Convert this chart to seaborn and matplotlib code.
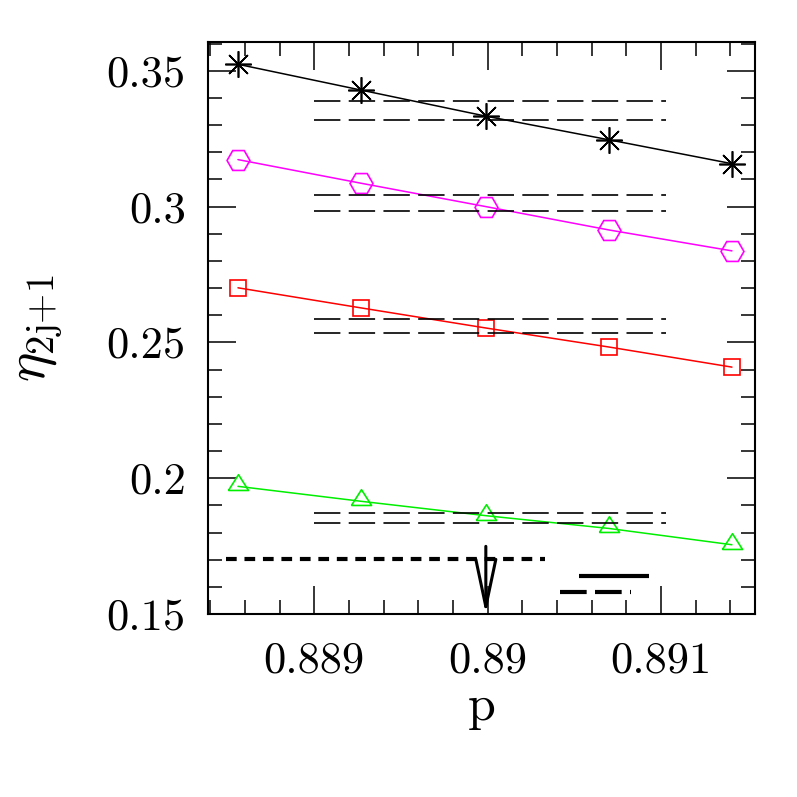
import numpy as np
import pandas as pd
import matplotlib
matplotlib.use('Agg')
import matplotlib.pyplot as plt
from matplotlib.ticker import MultipleLocator, FixedLocator, FixedFormatter
import seaborn as sns

# values
p_values = [0.88856, 0.88927, 0.88999, 0.89070, 0.89141]
eta_star = [0.3524, 0.3429, 0.3333, 0.3246, 0.3158]
eta_hex = [0.3173, 0.3086, 0.3000, 0.2914, 0.2837]
eta_square = [0.2701, 0.2627, 0.2553, 0.2483, 0.2409]
eta_triangle = [0.1970, 0.1915, 0.1862, 0.1815, 0.1755]

# pairs of horizontal dashed reference levels
band_x = [0.889, 0.89103]
band_levels = [(0.3389, 0.3320), (0.3044, 0.2983), (0.2586, 0.2534), (0.1873, 0.1835)]

# thick legend-like segments near the bottom
thick_dash_x = [0.88849, 0.89033]
thick_dash_y = 0.1701
thick_solid_x = [0.89053, 0.89093]
thick_solid_y = 0.1639
thick_dashdot_x = [0.89042, 0.89083]
thick_dashdot_y = 0.1580

# arrow marking p_c
arrow_x = 0.88999
arrow_top = 0.1749
arrow_tip = 0.15

x_ticks = [0.889, 0.89, 0.891]
x_tick_labels = ['0.889', '0.89', '0.891']
y_ticks = [0.15, 0.2, 0.25, 0.3, 0.35]
y_tick_labels = ['0.15', '0.2', '0.25', '0.3', '0.35']

sns.set_style('ticks')
plt.rcParams['font.family'] = ['cmr10', 'DejaVu Serif']
plt.rcParams['mathtext.fontset'] = 'cm'
plt.rcParams['axes.unicode_minus'] = False
plt.rcParams['axes.formatter.use_mathtext'] = True
plt.rcParams['lines.scale_dashes'] = False
plt.rcParams['text.color'] = 'black'
plt.rcParams['axes.labelcolor'] = 'black'
plt.rcParams['xtick.color'] = 'black'
plt.rcParams['ytick.color'] = 'black'

fig = plt.figure(figsize=(7.97, 7.97), dpi=100)
ax = fig.add_axes([208 / 797, 183 / 797, 547 / 797, 572 / 797])

tri = [(-0.85, -0.336), (0.85, -0.336), (0.0, 1.0), (-0.85, -0.336)]
series = [
    (eta_star, 'black', (8, 2, 0), 19),
    (eta_hex, '#ff00ff', 'H', 16.5),
    (eta_square, 'red', 's', 11.5),
    (eta_triangle, '#00ee00', tri, 17),
]
for eta, color, marker, ms in series:
    df = pd.DataFrame({'p': p_values, 'eta': eta})
    sns.lineplot(data=df, x='p', y='eta', color=color, lw=1.1, marker=marker,
                 markersize=ms, markerfacecolor='none', markeredgecolor=color,
                 markeredgewidth=1.2, legend=False, ax=ax)

long_dash = (0, (19, 6))
for hi, lo in band_levels:
    for lev in (hi, lo):
        ax.plot(band_x, [lev, lev], color='black', lw=1.2, linestyle=long_dash,
                solid_capstyle='butt', dash_capstyle='butt')

ax.plot(thick_dash_x, [thick_dash_y] * 2, color='black', lw=3,
        linestyle=(0, (7.7, 5.6)), dash_capstyle='butt')
ax.plot(thick_solid_x, [thick_solid_y] * 2, color='black', lw=3,
        solid_capstyle='butt')
ax.plot(thick_dashdot_x, [thick_dashdot_y] * 2, color='black', lw=3,
        linestyle=(0, (19.2, 6)), dash_capstyle='butt')

ax.annotate('', xy=(arrow_x, arrow_tip), xytext=(arrow_x, arrow_top),
            arrowprops=dict(arrowstyle='->,head_length=3.4,head_width=0.72',
                            lw=2.2, color='black', shrinkA=0, shrinkB=0,
                            mutation_scale=10))

ax.set_xlim(0.888387, 0.891543)
ax.set_ylim(0.15, 0.3606)
ax.xaxis.set_major_locator(FixedLocator(x_ticks))
ax.xaxis.set_major_formatter(FixedFormatter(x_tick_labels))
ax.yaxis.set_major_locator(FixedLocator(y_ticks))
ax.yaxis.set_major_formatter(FixedFormatter(y_tick_labels))
ax.xaxis.set_minor_locator(MultipleLocator(0.0002))
ax.yaxis.set_minor_locator(MultipleLocator(0.01))
ax.tick_params(which='both', direction='in', top=True, right=True,
               width=1.1, color='black', labelcolor='black', labelsize=32)
ax.tick_params(which='major', length=20)
ax.tick_params(which='minor', length=10)
ax.tick_params(axis='x', which='major', pad=20)
ax.tick_params(axis='y', which='major', pad=16)
for s in ax.spines.values():
    s.set_linewidth(1.5)
    s.set_color('black')

ax.set_xlabel('p', fontsize=36, labelpad=2, color='black')
ax.set_ylabel(r'$\eta_{\mathrm{2j{+}1}}$', fontsize=40, labelpad=30, color='black')

fig.savefig('out.png', dpi=100)
